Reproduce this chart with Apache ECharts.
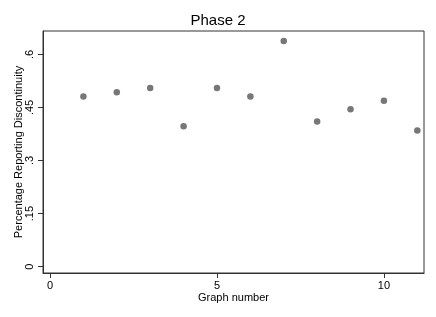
<!DOCTYPE html>
<html><head><meta charset="utf-8">
<script src="https://cdn.jsdelivr.net/npm/echarts@6/dist/echarts.min.js"></script>
<style>html,body{margin:0;padding:0;background:#fff}#c{width:436px;height:317px}</style>
</head><body><div id="c"></div>
<script>
const graphNumbers = [1,2,3,4,5,6,7,8,9,10,11];
const pctDiscontinuity = [0.481,0.493,0.505,0.397,0.505,0.481,0.638,0.410,0.445,0.469,0.385];
const xTicks = [0,5,10];
const yTicks = [0,0.15,0.3,0.45,0.6];
const yTickLabels = ['0','.15','.3','.45','.6'];

const chart = echarts.init(document.getElementById('c'), null, {renderer:'canvas'});
const font = 'Liberation Sans, Arial, sans-serif';
chart.setOption({
  animation:false,
  backgroundColor:'#fff',
  title:{text:'Phase 2', left:'center', top:8, textStyle:{fontFamily:font, fontSize:15, fontWeight:'normal', color:'#000'}},
  grid:{left:43, top:31, right:12, bottom:44, show:true, borderColor:'#333', borderWidth:1, backgroundColor:'#fff'},
  xAxis:{type:'value', min:-0.21, max:11.2,
    name:'Graph number', nameLocation:'middle', nameGap:19, nameMoveOverlap:false,
    nameTextStyle:{fontFamily:font, fontSize:11, color:'#000'},
    axisLine:{show:true, onZero:false, lineStyle:{color:'#333'}},
    axisTick:{show:true, length:5, customValues:xTicks, lineStyle:{color:'#333'}},
    axisLabel:{customValues:xTicks, fontFamily:font, fontSize:11, color:'#000', margin:7},
    splitLine:{show:false}},
  yAxis:{type:'value', min:-0.018, max:0.666,
    name:'Percentage Reporting Discontinuity', nameLocation:'middle', nameGap:19, nameMoveOverlap:false,
    nameTextStyle:{fontFamily:font, fontSize:11, color:'#000'},
    axisLine:{show:true, onZero:false, lineStyle:{color:'#333'}},
    axisTick:{show:true, length:5, customValues:yTicks, lineStyle:{color:'#333'}},
    axisLabel:{customValues:yTicks, rotate:90, fontFamily:font, fontSize:11, color:'#000', margin:8,
      formatter:function(v){const i=yTicks.findIndex(t=>Math.abs(t-v)<1e-9);return i>=0?yTickLabels[i]:'';}},
    splitLine:{show:false}},
  series:[{type:'scatter', data:graphNumbers.map((g,i)=>[g,pctDiscontinuity[i]]),
    symbol:'circle', symbolSize:6.5, itemStyle:{color:'#555'}}]
});
</script></body></html>
